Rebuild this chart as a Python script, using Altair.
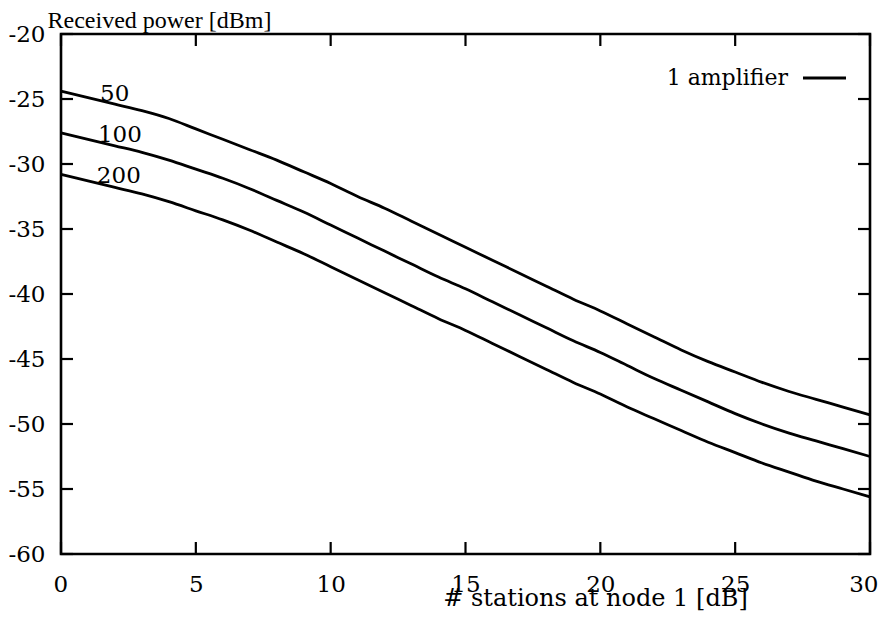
import altair as alt
import pandas as pd

# ---- data ----
x_db = list(range(0, 31))
s50 = [-24.4, -24.9, -25.4, -25.9, -26.5, -27.3, -28.1, -28.9, -29.7, -30.6,
       -31.5, -32.5, -33.4, -34.4, -35.4, -36.4, -37.4, -38.4, -39.4, -40.4,
       -41.3, -42.3, -43.3, -44.3, -45.2, -46.0, -46.8, -47.5, -48.1, -48.7, -49.3]
s100 = [-27.6, -28.1, -28.6, -29.1, -29.7, -30.4, -31.1, -31.9, -32.8, -33.7,
        -34.7, -35.7, -36.7, -37.7, -38.7, -39.6, -40.6, -41.6, -42.6, -43.6,
        -44.5, -45.5, -46.5, -47.4, -48.3, -49.2, -50.0, -50.7, -51.3, -51.9, -52.5]
s200 = [-30.8, -31.3, -31.8, -32.3, -32.9, -33.6, -34.3, -35.1, -36.0, -36.9,
        -37.9, -38.9, -39.9, -40.9, -41.9, -42.8, -43.8, -44.8, -45.8, -46.8,
        -47.7, -48.7, -49.6, -50.5, -51.4, -52.2, -53.0, -53.7, -54.4, -55.0, -55.6]
series_names = ["50", "100", "200"]
label_x = [1.45, 1.37, 1.33]
label_y = [-25.13, -28.28, -31.44]
x_ticks = [0, 5, 10, 15, 20, 25, 30]
y_ticks = [-60, -55, -50, -45, -40, -35, -30, -25, -20]

FONT = "DejaVu Serif"
W, H = 809, 520

rows = []
for name, vals in zip(series_names, [s50, s100, s200]):
    for xv, yv in zip(x_db, vals):
        rows.append({"x": xv, "y": yv, "s": name})
df = pd.DataFrame(rows)
lab = pd.DataFrame({"x": label_x, "y": label_y, "t": series_names})
xt = pd.DataFrame({"v": x_ticks})
yt = pd.DataFrame({"v": y_ticks})

xscale = alt.Scale(domain=[0, 30], nice=False, zero=False)
yscale = alt.Scale(domain=[-60, -20], nice=False, zero=False)

xaxis = alt.Axis(values=x_ticks, ticks=False, domain=False, grid=False,
                 labelExpr="datum.value + ''",
                 labelFont=FONT, labelFontSize=23, labelColor="black",
                 labelPadding=19, labelFlush=True, labelFlushOffset=8,
                 labelOverlap=False,
                 title="# stations at node 1 [dB]", titleFont=FONT,
                 titleFontSize=24, titleFontWeight="normal", titleColor="black",
                 titleX=534, titleY=51, titleAlign="center",
                 titleBaseline="alphabetic")
yaxis = alt.Axis(values=y_ticks, ticks=False, domain=False, grid=False,
                 labelExpr="datum.value + ''",
                 labelFont=FONT, labelFontSize=23, labelColor="black",
                 labelPadding=16, labelFlush=False, labelOverlap=False,
                 title="Received power [dBm]", titleFont="Liberation Serif",
                 titleFontSize=24, titleFontWeight="normal", titleColor="black",
                 titleAngle=0, titleX=-14, titleY=-7, titleAlign="left",
                 titleBaseline="alphabetic")

lines = alt.Chart(df).mark_line(color="black", strokeWidth=2.8,
                                interpolate="monotone").encode(
    x=alt.X("x:Q", scale=xscale, axis=xaxis),
    y=alt.Y("y:Q", scale=yscale, axis=yaxis),
    detail="s:N",
)

labels = alt.Chart(lab).mark_text(font=FONT, fontSize=23, color="black",
                                  align="left", baseline="alphabetic").encode(
    x=alt.X("x:Q", scale=xscale), y=alt.Y("y:Q", scale=yscale), text="t:N")

TK = 12
tick_style = dict(color="black", strokeWidth=2.2)
bottom_ticks = alt.Chart(xt).mark_rule(**tick_style).encode(
    x=alt.X("v:Q", scale=xscale), y=alt.value(H), y2=alt.value(H - TK))
top_ticks = alt.Chart(xt).mark_rule(**tick_style).encode(
    x=alt.X("v:Q", scale=xscale), y=alt.value(0), y2=alt.value(TK))
left_ticks = alt.Chart(yt).mark_rule(**tick_style).encode(
    y=alt.Y("v:Q", scale=yscale), x=alt.value(0), x2=alt.value(TK))
right_ticks = alt.Chart(yt).mark_rule(**tick_style).encode(
    y=alt.Y("v:Q", scale=yscale), x=alt.value(W), x2=alt.value(W - TK))

legend_text = alt.Chart(pd.DataFrame({"t": ["1 amplifier"]})).mark_text(
    font=FONT, fontSize=22, color="black", align="right",
    baseline="alphabetic").encode(x=alt.value(727), y=alt.value(51), text="t:N")
legend_line = alt.Chart(pd.DataFrame({"t": ["1 amplifier"]})).mark_rule(
    color="black", strokeWidth=2.8).encode(
    x=alt.value(742), x2=alt.value(785), y=alt.value(44))

chart = alt.layer(
    lines, labels, bottom_ticks, top_ticks, left_ticks, right_ticks,
    legend_text, legend_line,
).properties(
    width=W, height=H,
    padding={"left": 53, "top": 26, "right": 10, "bottom": 60},
    autosize=alt.AutoSizeParams(type="none"),
    background="white",
).configure_view(
    stroke="black", strokeWidth=2.6
)

chart.save("out.html", embed_options={"renderer": "svg", "actions": False})
